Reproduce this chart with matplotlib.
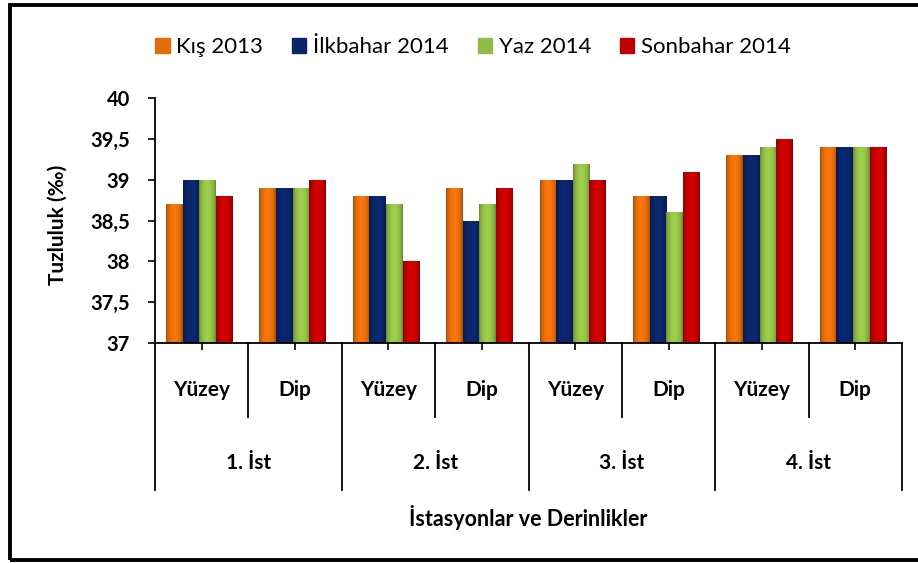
import numpy as np
import matplotlib.pyplot as plt
from matplotlib.patches import Patch, Rectangle
from matplotlib.colors import to_rgb
import matplotlib.transforms as mtransforms

plt.rcParams['font.family'] = ['Lato', 'DejaVu Sans']

# data
depths = ['Yüzey', 'Dip', 'Yüzey', 'Dip', 'Yüzey', 'Dip', 'Yüzey', 'Dip']
stations = ['1. İst', '2. İst', '3. İst', '4. İst']
seasons = ['Kış 2013', 'İlkbahar 2014', 'Yaz 2014', 'Sonbahar 2014']
kis = [38.7, 38.9, 38.8, 38.9, 39.0, 38.8, 39.3, 39.4]
ilkbahar = [39.0, 38.9, 38.8, 38.5, 39.0, 38.8, 39.3, 39.4]
yaz = [39.0, 38.9, 38.7, 38.7, 39.2, 38.6, 39.4, 39.4]
sonbahar = [38.8, 39.0, 38.0, 38.9, 39.0, 39.1, 39.5, 39.4]
yticks = [37, 37.5, 38, 38.5, 39, 39.5, 40]
ytick_labels = ['37', '37,5', '38', '38,5', '39', '39,5', '40']

colors = ['#E36C0A', '#0B2466', '#8FBC45', '#C00000']
series = [kis, ilkbahar, yaz, sonbahar]

W, H = 918, 563
fig = plt.figure(figsize=(W / 100, H / 100), dpi=100)
ax = fig.add_axes([155 / W, 1 - 343 / H, (902 - 155) / W, (343 - 98.3) / H])

x = np.arange(len(depths)) + 0.5
bw = 0.178
t = np.linspace(0, 1, 32)
shade = 0.72 + 0.38 * np.sin(np.pi * t) ** 0.6
for i, (vals, c) in enumerate(zip(series, colors)):
    bars = ax.bar(x + (i - 1.5) * bw - 0.025, vals, bw, color=c,
                  edgecolor='none', zorder=2)
    rgb = np.array(to_rgb(c))
    grad = np.clip(rgb[None, :] * shade[:, None], 0, 1)[None, :, :]
    for b in bars:
        im = ax.imshow(grad, extent=(b.get_x(), b.get_x() + b.get_width(),
                                     37, b.get_height()),
                       aspect='auto', zorder=3, interpolation='bilinear')
        im.set_clip_path(b)

ax.set_xlim(0, 8)
ax.set_ylim(37, 40)
ax.set_yticks(yticks)
ax.set_yticklabels(ytick_labels, fontsize=14.5, fontweight='bold')
ax.set_xticks(x)
ax.set_xticklabels([])
ax.tick_params(axis='y', direction='out', length=5, width=1.2, pad=13)
ax.tick_params(axis='x', direction='out', length=5, width=1.2)
for s in ['top', 'right']:
    ax.spines[s].set_visible(False)
ax.spines['left'].set_linewidth(1.3)
ax.spines['bottom'].set_linewidth(1.3)
ax.spines['bottom'].set_zorder(4)

fig.text(58 / W, 1 - 225 / H, 'Tuzluluk (‰)', rotation=90, ha='center',
         va='center', fontsize=15, fontweight='bold')

# multi level x axis
trans = mtransforms.blended_transform_factory(ax.transData, ax.transAxes)
lvl1 = -74 / 244.7
lvl2 = -147 / 244.7
for b in range(9):
    y_end = lvl2 if b % 2 == 0 else lvl1
    ax.plot([b, b], [0, y_end], color='black', lw=1.3, transform=trans,
            clip_on=False)
for xi, lab in zip(x, depths):
    ax.text(xi, -47 / 244.7, lab, transform=trans, ha='center', va='center',
            fontsize=15, fontweight='bold')
for k, lab in enumerate(stations):
    ax.text(2 * k + 1, -120 / 244.7, lab, transform=trans, ha='center',
            va='center', fontsize=15, fontweight='bold')
fig.text(528 / W, 1 - 517 / H, 'İstasyonlar ve Derinlikler', ha='center',
         va='center', fontsize=15.5, fontweight='bold')

handles = [Patch(facecolor=c, edgecolor=c) for c in colors]
fig.legend(handles, seasons, loc='center', bbox_to_anchor=(473 / W, 1 - 47 / H),
           ncol=4, frameon=False, fontsize=16, handlelength=0.65,
           handleheight=0.65, handletextpad=0.3, columnspacing=1.3)

# outer frame
fig.patches.append(Rectangle((9.5 / W, 1 - 559.5 / H), (922 - 9.5) / W,
                             (559.5 - 5) / H, transform=fig.transFigure,
                             fill=False, edgecolor='black', linewidth=2.8))

fig.savefig('out.png', dpi=100)
